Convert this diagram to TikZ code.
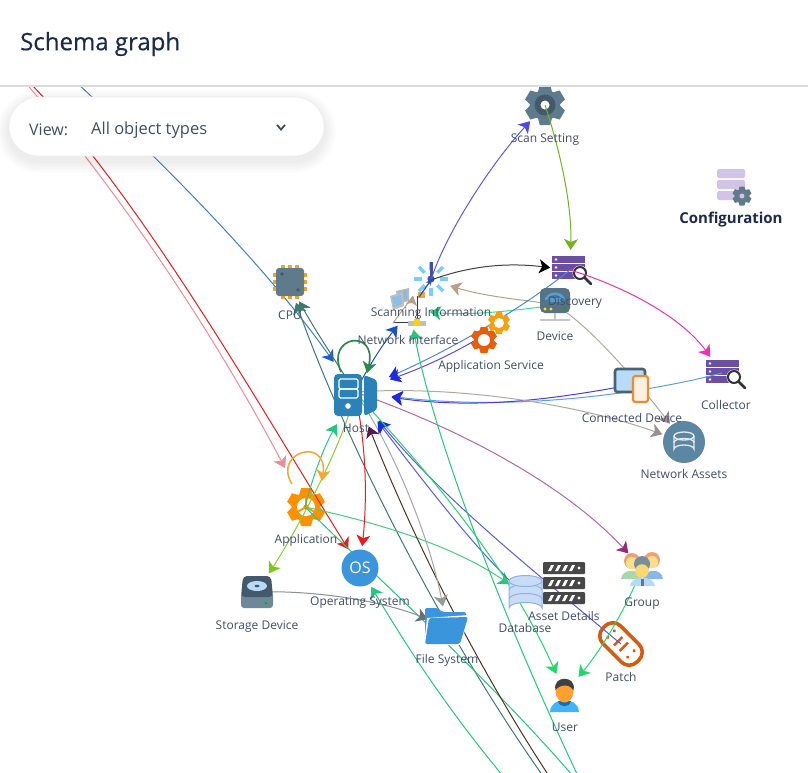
\documentclass[tikz,border=0pt]{standalone}
\usepackage{fontspec}
\setmainfont{Open Sans}
\usetikzlibrary{arrows.meta}
\definecolor{ink}{HTML}{414D68}
\definecolor{navy}{HTML}{1B2B4B}
\definecolor{slate}{HTML}{5D7B8C}
\definecolor{slated}{HTML}{44596A}
\definecolor{lilac}{HTML}{D2C4E8}
\definecolor{violet}{HTML}{6A4FA3}
\definecolor{hostblue}{HTML}{2A82B8}
\definecolor{folder}{HTML}{3A95DC}
\definecolor{sky}{HTML}{B8DCF8}
\definecolor{headblue}{HTML}{1A2AE0}
\definecolor{mint}{HTML}{22D868}
\definecolor{jade}{HTML}{22C87C}
\definecolor{rust}{HTML}{D85A10}
\definecolor{pale}{HTML}{C9DBF5}
\definecolor{paleline}{HTML}{8FB2E6}
\definecolor{tan}{HTML}{B8A088}
\definecolor{greige}{HTML}{B0A8A0}
\definecolor{linkred}{HTML}{E81C1C}
\definecolor{linkpink}{HTML}{F08A96}
\definecolor{linkblue}{HTML}{3A80D0}
\definecolor{linkteal}{HTML}{3E7A70}
\definecolor{linkindigo}{HTML}{5A5AE6}
\definecolor{linklime}{HTML}{72B41E}
\definecolor{linkmag}{HTML}{F030B0}
\definecolor{handset}{HTML}{4DA0D8}
\definecolor{rayblue}{HTML}{78D0FA}
\definecolor{mastblue}{HTML}{3E4FB0}
\definecolor{lockgold}{HTML}{E8A840}
\definecolor{screenA}{HTML}{8AB8E0}
\definecolor{screenB}{HTML}{8AC0E8}
\definecolor{amber}{HTML}{F5A010}
\definecolor{burnt}{HTML}{E85C0A}
\definecolor{chippin}{HTML}{F5A020}
\definecolor{cogorange}{HTML}{FF9000}
\definecolor{shirtgreen}{HTML}{A8D8A8}
\definecolor{shirtblue}{HTML}{88B8E8}
\definecolor{shirtpale}{HTML}{B8D8F8}
\definecolor{hair}{HTML}{F0A070}
\definecolor{faceA}{HTML}{F8E08A}
\definecolor{faceB}{HTML}{F8D870}
\definecolor{userblue}{HTML}{40B4F8}
\definecolor{collar}{HTML}{1E6AB0}
\definecolor{userface}{HTML}{FFA030}
\definecolor{phonefill}{HTML}{FFF0E0}
\definecolor{phoneline}{HTML}{EE8A30}
\definecolor{assetblue}{HTML}{5C87A3}
\definecolor{tipblue}{HTML}{1E5CCF}
\definecolor{loopgreen}{HTML}{2E8B47}
\definecolor{loopamber}{HTML}{F0A830}
\definecolor{cobalt}{HTML}{1E50C0}
\definecolor{tipindigo}{HTML}{4A4AE0}
\definecolor{linkspring}{HTML}{40DC90}
\definecolor{linkazure}{HTML}{4A8AD8}
\definecolor{linkpurple}{HTML}{5A4AE0}
\definecolor{linkcorn}{HTML}{5AA0E0}
\definecolor{linkviolet}{HTML}{4A3AE0}
\definecolor{tipgreige}{HTML}{9A8F8F}
\definecolor{linkplum}{HTML}{B06A9C}
\definecolor{tipplum}{HTML}{9A2A7A}
\definecolor{linklawn}{HTML}{8ACC2A}
\definecolor{tiplawn}{HTML}{78C81E}
\definecolor{linksea}{HTML}{44CC80}
\definecolor{linkbrown}{HTML}{4A3428}
\definecolor{tipmaroon}{HTML}{5B1A45}
\definecolor{linksteel}{HTML}{8A8F99}
\definecolor{tipsteel}{HTML}{6A7078}
\tikzset{
  hub/.style={circle,minimum size=#1,inner sep=0pt,outer sep=0pt},
  link/.style 2 args={draw=#1,line width=1pt,-{Stealth[length=11pt,width=14pt,inset=3pt,color=#2]}},
  plainlink/.style={draw=#1,line width=1pt},
  caption/.style={text=ink,font=\fontsize{12}{14}\selectfont,inner sep=0pt,text height=9pt,text depth=3pt},
}
% Toothed wheel: centre x, centre y, outer radius, colour, turn of the first tooth
\newcommand{\cogwheel}[5]{%
  \begin{scope}[shift={(#1,#2)},scale=#3,rotate=#5]
    \foreach \a in {0,60,...,300}{
      \fill[#4,rotate=\a] (-.26,-1) -- (.26,-1) -- (.36,-.62) -- (-.36,-.62) -- cycle;}
    \fill[#4] (0,0) circle (.76);
  \end{scope}}
% Stack of three server bars with a magnifying glass
\newcommand{\searchrack}[3]{%
  \begin{scope}[shift={(#1,#2)}]
    \foreach \y in {0,8,16}{
      \fill[violet] (0,\y) rectangle (33,\y+7);
      \fill[white] (4,\y+3.5) circle (1.4);}
    \fill[white] (28,17) circle (7.5);
    \draw[#3,line width=2pt] (28,17) circle (6);
    \draw[#3,line width=2.6pt,line cap=round] (33,22) -- (39,28);
  \end{scope}}
\begin{document}
\begin{tikzpicture}[x=1pt,y=-1pt]
\useasboundingbox (0,0) rectangle (808,772);
\fill[white] (0,0) rectangle (808,772);

% Anchor circles of the object types
\node[hub=44] (scanset) at (545,105) {};
\node[hub=40] (scaninfo) at (431,280) {};
\node[hub=40] (discovery) at (570,270) {};
\node[hub=40] (collector) at (722,373) {};
\node[hub=36] (device) at (555,305) {};
\node[hub=40] (netif) at (410,310) {};
\node[hub=36] (appservice) at (491,331) {};
\node[hub=74] (host) at (355,392) {};
\node[hub=42] (cpu) at (289,283) {};
\node[hub=44] (application) at (305,507) {};
\node[hub=44] (os) at (360,568) {};
\node[hub=44] (storage) at (257,592) {};
\node[hub=42] (filesys) at (447,627) {};
\node[hub=38] (database) at (525,595) {};
\node[hub=40] (assets) at (564,582) {};
\node[hub=40] (group) at (642,568) {};
\node[hub=40] (patch) at (621,644) {};
\node[hub=42] (user) at (565,693) {};
\node[hub=46] (netassets) at (684,442) {};
\node[hub=36] (connected) at (630,385) {};

% Free ends of the links that leave the canvas
\coordinate (offRed) at (29,82);
\coordinate (offPink) at (25,82);
\coordinate (offBlue) at (76,82);
\coordinate (offTeal) at (543,776);
\coordinate (offBrown) at (549,776);
\coordinate (offMintA) at (503,776);
\coordinate (offMintB) at (578,776);
\coordinate (offMintC) at (573,776);
\coordinate (pinkTip) at (285,468);
\coordinate (tanFoot) at (393,323);
\coordinate (tanTip) at (413,296);
\coordinate (appLoopA) at (292,484);
\coordinate (appLoopB) at (322,481);
\coordinate (hostLoopA) at (341,372);
\coordinate (hostLoopB) at (367,373);

% Icons that links run across
\cogwheel{545}{105}{20}{slate}{0}
\fill[slated] (545,105) circle (10.5);
\fill[white] (545,105) circle (4.5);

\foreach \y in {169,180,191}{\fill[lilac,rounded corners=1.5pt] (717,\y) rectangle (745,\y+9);}
\cogwheel{742}{196}{9.5}{slate}{0}
\fill[slated!80!white] (742,196) circle (5);
\fill[lilac] (742,196) circle (2.4);

\searchrack{552}{256}{black!80}
\searchrack{706}{360}{black!80}

% Scanning Information
\foreach \a in {0,45,...,315}{
  \draw[rayblue,line width=3.4pt,rotate around={\a:(431,279)}] (431,270) -- (431,262);}
\draw[mastblue,line width=3pt] (431,262) -- (431,279);
\fill[mastblue] (431,279) circle (3.6);
\fill[lockgold] (418,292) rectangle (425,298);

% Network Interface
\draw[slated!70!black,line width=.9pt] (393,322) -- (417,322) (417,296) -- (417,318);
\fill[gray!55] (396,291) -- (409,288) -- (409,301) -- (398,304) -- cycle;
\fill[screenA] (398,293) -- (407,290) -- (407,299) -- (399,302) -- cycle;
\fill[gray!50] (390,296) -- (403,292) -- (404,306) -- (393,310) -- cycle;
\fill[screenB] (392,297) -- (401,295) -- (402,304) -- (394,307) -- cycle;
\fill[gray!50] (408,321) rectangle (426,326);
\fill[yellow!70!orange] (414,319) rectangle (420,326);

% Application
\cogwheel{306}{507}{19}{cogorange}{0}
\fill[white] (306,507) circle (9);
\fill[cogorange] (306,507) circle (2.6);
\foreach \a in {90,210,330}{\draw[cogorange,line width=1.8pt,rotate around={\a:(306,507)}] (306,507) -- (315,507);}

% Patch
\begin{scope}[shift={(621,644)},rotate=-45]
  \draw[rust,fill=white,line width=3.6pt,rounded corners=11pt] (-24,-12.5) rectangle (24,12.5);
  \foreach \x in {-14,14}{\fill[rust] (\x,-4.5) circle (1.8) (\x,4.5) circle (1.8);}
  \foreach \x in {-4,4}{\draw[rust,line width=2.4pt] (\x,-6) -- (\x,6);}
\end{scope}

% User
\fill[userblue] (550,712) .. controls (551,702) and (558,701) .. (564,700) .. controls (571,701) and (578,702) .. (579,712) -- cycle;
\fill[collar] (558,701) .. controls (560,708) and (569,708) .. (571,701) -- cycle;
\fill[userface] (564.5,691) ellipse (9 and 11.5);
\fill[black!75] (555.5,690) .. controls (552,675) and (577,675) .. (573.5,690) .. controls (570,684) and (560,684) .. (555.5,690) -- cycle;

% Links
\begin{scope}
\clip (0,87) rectangle (808,772);
\draw[link={linkpink}{linkpink}] (offPink) .. controls (130,205) and (220,345) .. (pinkTip);
\draw[link={linkred}{linkred}] (offRed) .. controls (140,195) and (265,415) .. (os);
\draw[link={linkblue}{tipblue}] (offBlue) .. controls (160,160) and (265,265) .. (host);
\draw[link={linkteal}{linkteal}] (host.center) .. controls (335,360) and (315,330) .. (cpu);
\draw[link={linkteal}{linkteal}] (offTeal) .. controls (440,630) and (345,440) .. (cpu);
\draw[plainlink=tan] (tanFoot) -- (tanTip);
\fill[tan] (tanTip) -- (406,304) -- (412,303) -- (417,306) -- cycle;
\draw[link={cobalt}{cobalt}] (host.center) .. controls (368,368) and (380,348) .. (netif);
\draw[cobalt,line width=1.2pt,shorten <=16pt,-{Stealth[length=5pt,width=6pt]}] (netif.center) -- (scaninfo.center);
\draw[link={linkindigo}{tipindigo}] (scaninfo.center) .. controls (445,235) and (490,165) .. (scanset);
\draw[link={linklime}{linklime}] (scanset.center) .. controls (560,150) and (572,205) .. (discovery);
\draw[link={black!75}{black}] (scaninfo.center) .. controls (480,262) and (520,264) .. (discovery);
\draw[link={linkmag}{linkmag}] (discovery.center) .. controls (620,285) and (680,315) .. (collector);
\draw[link={tan}{tan}] (device.center) .. controls (530,300) and (490,298) .. (scaninfo);
\draw[link={linkspring}{jade}] (device.center) .. controls (520,310) and (470,316) .. (netif);
\draw[link={linkazure}{headblue}] (discovery.center) .. controls (520,310) and (450,350) .. (host);
\draw[link={linkpurple}{headblue}] (appservice.center) .. controls (460,350) and (430,365) .. (host);
\draw[link={linkcorn}{headblue}] (collector.center) .. controls (650,392) and (520,412) .. (host);
\draw[link={linkviolet}{headblue}] (connected.center) .. controls (560,398) and (480,410) .. (host);
\draw[link={greige}{tipgreige}] (device.center) .. controls (590,325) and (640,385) .. (netassets);
\draw[link={greige}{tipgreige}] (host.center) .. controls (460,385) and (580,405) .. (netassets);
\draw[link={linkplum}{tipplum}] (host.center) .. controls (450,425) and (560,480) .. (group);
\draw[link={jade}{jade}] (application.center) .. controls (313,475) and (325,445) .. (host);
\draw[link={linklawn}{tiplawn}] (host.center) .. controls (345,440) and (300,525) .. (storage);
\draw[plainlink=jade] (application.center) .. controls (380,580) and (490,680) .. (offMintC);
\draw[link={linksea}{jade}] (application.center) .. controls (390,525) and (460,550) .. (database);
\draw[link={linkred}{linkred}] (host.center) .. controls (365,440) and (368,490) .. (os);
\draw[link={linkbrown}{tipmaroon}] (offBrown) .. controls (460,640) and (400,505) .. (host);
\draw[link={gray!70}{gray!80}] (host.center) .. controls (395,450) and (430,540) .. (filesys);
\draw[link={linkindigo}{headblue}] (patch.center) .. controls (520,560) and (440,495) .. (host);
\draw[link={linkindigo}{headblue}] (database.center) .. controls (480,555) and (430,490) .. (host);
\draw[link={mint}{mint}] (host.center) .. controls (430,475) and (505,560) .. (user);
\draw[link={mint}{mint}] (group.center) .. controls (630,600) and (605,645) .. (user);
\draw[link={jade}{jade}] (offMintB) .. controls (490,590) and (430,420) .. (netif);
\draw[link={jade}{jade}] (offMintA) .. controls (440,700) and (400,635) .. (os);
\draw[link={linksteel}{tipsteel}] (storage.center) .. controls (310,590) and (380,600) .. (filesys);
\end{scope}

% Icons that cover the links
% Device
\fill[slate!75!slated,rounded corners=5pt] (540,288) rectangle (570,313);
\draw[handset,line width=2.6pt,line cap=round] (546,299) .. controls (550,292) and (560,292) .. (564,299);
\fill[handset] (549,298) rectangle (561,302);
\fill[yellow!85!orange] (545,309) circle (1.6) (551,309) circle (1.6);
\fill[green!70!black] (565,309) circle (1.6);
\draw[gray!45,line width=1.3pt] (555,313) -- (555,319);
\draw[gray!45,line width=2pt] (540,320) -- (570,320);

% Application Service
\cogwheel{499}{323}{11}{amber}{0}
\fill[white] (499,323) circle (5);
\cogwheel{484}{340}{13}{burnt}{0}
\fill[white] (484,340) circle (6);

% Host
\fill[hostblue,rounded corners=4pt] (334,374) rectangle (362,416);
\fill[hostblue,rounded corners=3pt] (364,375) -- (377,380) -- (377,410) -- (364,416) -- cycle;
\draw[white,line width=1.2pt,rounded corners=1.5pt] (339,379) rectangle (358,389);
\draw[white,line width=1.2pt,rounded corners=1.5pt] (339,389) rectangle (358,398);
\fill[white] (348,406) circle (2.8);

% Self-links of Host and Application
\draw[link={loopgreen}{loopgreen},line width=1.7pt] (hostLoopA) .. controls (325,335) and (378,328) .. (hostLoopB);
\draw[link={loopamber}{loopamber},line width=1.5pt] (appLoopA) .. controls (272,452) and (328,436) .. (appLoopB);

% CPU
\foreach \d in {-7,0,7}{
  \fill[chippin] (290+\d-1.8,265) rectangle (290+\d+1.8,299);
  \fill[chippin] (273,282+\d-1.8) rectangle (307,282+\d+1.8);}
\fill[slate,rounded corners=3pt] (276,268) rectangle (304,296);
\fill[slated] (282,274) circle (1.8) (298,290) circle (1.8);

% Operating System
\fill[folder] (360,568) circle (18.5);
\node[text=white,font=\fontsize{16}{16}\selectfont,inner sep=0pt] (oslogo) at (360,568) {OS};

% Storage Device
\fill[slate!90!white,rounded corners=3pt] (241,592) rectangle (273,608);
\fill[slated,rounded corners=4pt] (243,576) -- (271,576) -- (273,597) -- (241,597) -- cycle;
\fill[sky] (257,586) ellipse (10 and 5);
\fill[slated] (257,586) ellipse (2.5 and 1.3);
\fill[green!70!black] (266,603) circle (1.5);

% File System
\fill[folder,rounded corners=2pt] (425,608) -- (438,608) -- (442,612) -- (466,612) -- (466,620) -- (425,635) -- cycle;
\fill[white] (427,618) -- (469,615) -- (461,645) -- (424,645) -- cycle;
\fill[folder,rounded corners=2pt] (429,618) -- (468,617) -- (460,644) -- (425,644) -- cycle;

% Database
\draw[paleline,fill=pale,line width=1pt] (509,581) -- (509,608) arc[start angle=180,end angle=360,x radius=16.5,y radius=5.5] -- (542,581) -- cycle;
\draw[paleline,line width=1pt] (509,590) arc[start angle=180,end angle=360,x radius=16.5,y radius=5.5];
\draw[paleline,line width=1pt] (509,599) arc[start angle=180,end angle=360,x radius=16.5,y radius=5.5];
\draw[paleline,fill=pale,line width=1pt] (525.5,581) ellipse (16.5 and 5.5);

% Asset Details
\foreach \y in {562,577,592}{
  \fill[black!72,rounded corners=1pt] (543,\y) rectangle (585,\y+12);
  \foreach \x in {548,555,562,569}{\fill[white] (\x,\y+9) -- (\x+3,\y+9) -- (\x+6,\y+3) -- (\x+3,\y+3) -- cycle;}
  \fill[white] (579,\y+6) circle (1.7);}

% Group
\fill[shirtgreen] (621,579) .. controls (622,568) and (640,568) .. (642,579) -- cycle;
\fill[shirtblue] (643,579) .. controls (645,568) and (662,568) .. (663,579) -- cycle;
\fill[hair] (632,561) circle (8);
\fill[hair] (652,560) circle (8);
\fill[faceA] (632,563) circle (6.2);
\fill[faceA] (652,562) circle (6.2);
\fill[shirtpale] (630,586) .. controls (631,575) and (654,575) .. (655,586) -- cycle;
\fill[slate!85] (642,564) circle (8);
\fill[faceB] (642,571) circle (6.8);
\fill[slate] (640.5,579) rectangle (643.5,586);

% Connected Device
\fill[sky,draw=slate!80!black,line width=2.6pt,rounded corners=2.5pt] (615,369) rectangle (645,392);
\fill[phonefill,draw=phoneline,line width=2.2pt,rounded corners=2.5pt] (633,376) rectangle (648,402);

% Network Assets
\fill[assetblue] (684,442) circle (21);
\draw[white!85!slate,line width=1.3pt] (674,436) -- (674,449) arc[start angle=180,end angle=360,x radius=10,y radius=4] -- (694,436);
\draw[white!85!slate,line width=1.3pt] (684,436) ellipse (10 and 4);
\draw[white!85!slate,line width=1.3pt] (674,442.5) arc[start angle=180,end angle=360,x radius=10,y radius=4];

% Captions
\node[caption] (lScanset) at (545,139) {Scan Setting};
\node[text=navy,font=\fontsize{15}{18}\selectfont\bfseries,inner sep=0pt,text height=11pt,text depth=4pt] (lConfig) at (731,220) {Configuration};
\node[caption] (lDiscovery) at (575,302) {Discovery};
\node[caption] (lScaninfo) at (431,313) {Scanning Information};
\node[caption] (lDevice) at (555,337) {Device};
\node[caption] (lNetif) at (408,341) {Network Interface};
\node[caption] (lAppserv) at (491,366) {Application Service};
\node[caption] (lCollector) at (726,406) {Collector};
\node[caption] (lConnected) at (632,419) {Connected Device};
\node[caption] (lHost) at (356,429) {Host};
\node[caption] (lNetassets) at (684,475) {Network Assets};
\node[caption] (lCpu) at (290,316) {CPU};
\node[caption] (lApp) at (306,540) {Application};
\node[caption] (lGroup) at (642,603) {Group};
\node[caption] (lAssets) at (564,617) {Asset Details};
\node[caption] (lOs) at (360,602) {Operating System};
\node[caption] (lDb) at (525,629) {Database};
\node[caption] (lStorage) at (257,626) {Storage Device};
\node[caption] (lFiles) at (447,660) {File System};
\node[caption] (lPatch) at (621,678) {Patch};
\node[caption] (lUser) at (565,728) {User};

% Page header
\fill[white] (0,0) rectangle (808,85);
\draw[gray!28,line width=1.6pt] (0,86) -- (808,86);
\node[anchor=west,text=navy,font=\fontsize{24}{28}\selectfont\addfontfeature{FakeBold=0.35},inner sep=0pt] (title) at (20,44) {Schema graph};

% Floating view selector
\foreach \g in {12,10,...,2}{
  \fill[black,opacity=.012,rounded corners=30pt+\g pt] (9-\g,97+5-\g) rectangle (324+\g,156+5+\g);}
\fill[white,draw=gray!15,line width=.6pt,rounded corners=29.5pt] (9,97) rectangle (324,156);
\node[anchor=west,text=ink,font=\fontsize{16}{18}\selectfont,inner sep=0pt] (viewlbl) at (29,130) {View:};
\node[anchor=west,text=ink,font=\fontsize{16.5}{18}\selectfont,inner sep=0pt] (viewval) at (91,130) {All object types};
\draw[ink,line width=1.8pt] (277,125) -- (281,129.5) -- (285,125);
\end{tikzpicture}
\end{document}
